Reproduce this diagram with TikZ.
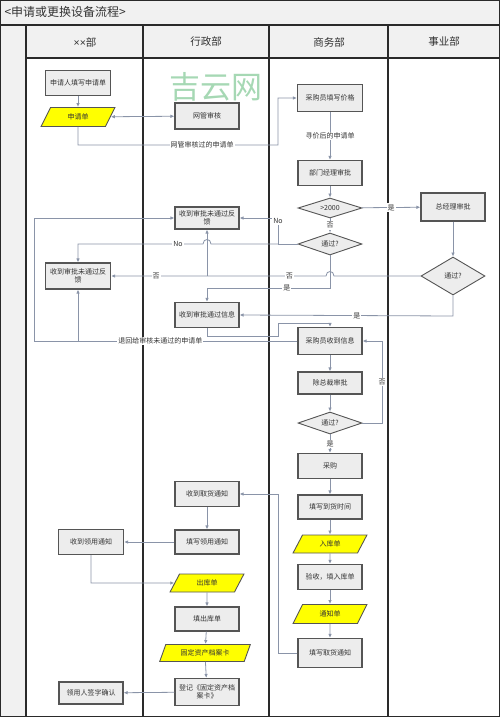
\documentclass[tikz,border=0pt]{standalone}
\usepackage{fontspec}
\setmainfont{Noto Sans CJK SC}
\newfontfamily\latinf{Liberation Sans}
\usetikzlibrary{shapes.geometric,arrows.meta}
\definecolor{boxfill}{HTML}{EDEDED}
\definecolor{boxline}{HTML}{555555}
\definecolor{lc}{HTML}{8A94A8}
\definecolor{hdr}{HTML}{F1F1F1}
\definecolor{txt}{HTML}{333333}
\definecolor{ylw}{HTML}{FFFF00}
\definecolor{wm}{HTML}{A6D8B4}
\definecolor{frame}{HTML}{2A2A2A}
\begin{document}
\begin{tikzpicture}[x=1pt,y=-1pt,
  box/.style={draw=boxline,line width=1.1pt,fill=boxfill,minimum width=64pt,minimum height=25pt,inner sep=1pt,align=center,font=\fontsize{7}{8.5}\selectfont,text=txt},
  doc/.style={trapezium,trapezium left angle=65,trapezium right angle=115,trapezium stretches=true,draw=boxline,line width=0.9pt,fill=ylw,minimum width=74pt,minimum height=19pt,inner sep=1pt,font=\fontsize{7}{8.5}\selectfont,text=txt},
  dia/.style={diamond,aspect=3,draw=boxline,line width=0.9pt,fill=boxfill,minimum width=64pt,minimum height=22pt,inner sep=0pt,font=\fontsize{7}{8.5}\selectfont,text=txt},
  conn/.style={draw=lc,line width=0.8pt},
  arr/.style={conn,-{Latex[length=4pt,width=3.5pt]}},
  arrb/.style={conn,{Latex[length=4pt,width=3.5pt]}-{Latex[length=4pt,width=3.5pt]}},
  lab/.style={fill=white,inner sep=1pt,font=\fontsize{7}{8}\selectfont,text=txt},
  hd/.style={font=\fontsize{10.5}{12}\selectfont,text=txt},
  lane/.style={draw=frame,line width=1.2pt}
]
\useasboundingbox (0,0) rectangle (500,717);
% backgrounds
\fill[hdr] (0,0) rectangle (500,25);
\fill[hdr] (0,25) rectangle (26,717);
\fill[hdr] (26,25) rectangle (500,58);
\node[anchor=west,font=\fontsize{12}{14}\selectfont,text=txt] (title) at (1,12) {<申请或更换设备流程>};
\draw[lane] (0.6,0.6) rectangle (499.4,716.4);
\draw[lane] (0,25) -- (500,25);
\draw[lane] (26,58) -- (500,58);
\draw[lane] (26,25) -- (26,717);
\draw[lane] (143,25) -- (143,717);
\draw[lane] (269,25) -- (269,717);
\draw[lane] (388,25) -- (388,717);
\node[hd] (h1) at (85,42) {{\latinf ××}部};
\node[hd] (h2) at (206,42) {行政部};
\node[hd] (h3) at (329,42) {商务部};
\node[hd] (h4) at (444,42) {事业部};
\node[text=wm,font=\fontsize{31}{34}\selectfont] (wmk) at (216,87) {吉云网};

% nodes
\node[box,minimum width=65pt] (n1) at (78,83) {申请人填写申请单};
\node[doc] (d1) at (78,117) {申请单};
\node[box,minimum height=26pt] (w1) at (207,116) {网管审核};
\node[box,minimum width=65pt,minimum height=27pt] (c1) at (330,98) {采购员填写价格};
\node[box] (m1) at (330,173) {部门经理审批};
\node[dia,minimum height=20pt] (g1) at (330,208) {>2000};
\node[box,minimum height=28pt] (z1) at (453,207) {总经理审批};
\node[dia] (t1) at (330,244) {通过?};
\node[box,minimum height=22pt] (x1) at (207,218) {收到审批未通过反\\馈};
\node[box,minimum width=65pt,minimum height=26pt] (x2) at (78,276) {收到审批未通过反\\馈};
\node[dia,aspect=1.7,minimum height=38pt] (t2) at (453,276) {通过?};
\node[box] (y1) at (207,315) {收到审批通过信息};
\node[box,minimum height=27pt] (c2) at (330,341) {采购员收到信息};
\node[box,minimum height=22pt] (r1) at (330,383) {除总裁审批};
\node[dia] (t3) at (330,423) {通过?};
\node[box] (p1) at (330,466) {采购};
\node[box,minimum height=24pt] (f1) at (330,507) {填写到货时间};
\node[doc,minimum height=18pt] (d2) at (330,544) {入库单};
\node[box] (v1) at (330,577) {验收，填入库单};
\node[doc] (d3) at (330,614) {通知单};
\node[box,minimum height=29pt] (q1) at (330,653) {填写取货通知};
\node[box] (s1) at (207,494) {收到取货通知};
\node[box,minimum height=24pt] (s2) at (207,542) {填写领用通知};
\node[box,minimum width=65pt] (s3) at (91,542) {收到领用通知};
\node[doc,minimum height=18pt] (d4) at (207,583) {出库单};
\node[box,minimum height=24pt] (s4) at (207,619) {填出库单};
\node[doc,minimum width=91pt,minimum height=17pt] (d5) at (205,653) {固定资产档案卡};
\node[box,minimum height=27pt] (s5) at (207,692) {登记《固定资产档\\案卡》};
\node[box,minimum height=22pt] (s6) at (91,693) {领用人签字确认};

\coordinate (j1) at (278,244);
\coordinate (j2) at (207,276);
\coordinate (j3) at (78,341);

% connectors
\draw[arr] (n1) -- (d1);
\draw[arrb] (d1) -- (w1);
\draw[arr] (d1.south) -- (78,145) -- node[lab,pos=0.62]{网管审核过的申请单} (278,145) -- (278,98) -- (c1.west);
\draw[arr] (c1) -- node[lab]{寻价后的申请单} (m1);
\draw[arr] (m1) -- (g1);
\draw[arr] (g1) -- node[lab]{否} (t1);
\draw[arr] (g1) -- node[lab]{是} (z1);
\draw[arr] (z1) -- (t2);
\draw[arr] (t1.west) -- (j1) -- (278,218) -- (x1.east);
\node[lab] (no1) at (278,221) {No};
\draw[arr] (j1) -- (211,244) .. controls (211,238) and (203,238) .. (203,244) -- node[lab,pos=0.2]{No} (78,244) -- (x2.north);
\draw[arr] (t2.west) -- (334,276) .. controls (334,270) and (326,270) .. (326,276) -- node[lab,pos=0.17]{否} node[lab,pos=0.79]{否} (x2.east);
\draw[arr] (j2) -- (x1.south);
\draw[arr] (t1.south) -- (330,288) -- node[lab,pos=0.35]{是} (207,288) -- (y1.north);
\draw[arr] (t2.south) -- (453,316) -- node[lab,pos=0.45]{是} (y1.east);
\draw[arr] (y1.south) -- (207,336) -- (278,336) -- (278,323) -- (330,323) -- (c2.north);
\draw[arr] (c2.west) -- node[lab,pos=0.52]{退回给审核未通过的申请单} (34,341) -- (34,218) -- (x1.west);
\draw[arr] (j3) -- (x2.south);
\draw[arr] (c2) -- (r1);
\draw[arr] (r1) -- (t3);
\draw[arr] (t3) -- node[lab]{是} (p1);
\draw[arr] (t3.east) -- (382,423) -- node[lab]{否} (382,341) -- (c2.east);
\draw[arr] (p1) -- (f1);
\draw[arr] (f1) -- (d2);
\draw[arr] (d2) -- (v1);
\draw[arr] (v1) -- (d3);
\draw[arr] (d3) -- (q1);
\draw[arr] (q1.west) -- (278,653) -- (278,494) -- (s1.east);
\draw[arr] (s1) -- (s2);
\draw[arr] (s2) -- (s3);
\draw[arr] (s3.south) -- (91,583) -- (d4.west);
\draw[arr] (d4) -- (s4);
\draw[arr] (s4) -- (d5);
\draw[arr] (d5) -- (s5);
\draw[arr] (s5) -- (s6);
\end{tikzpicture}
\end{document}
